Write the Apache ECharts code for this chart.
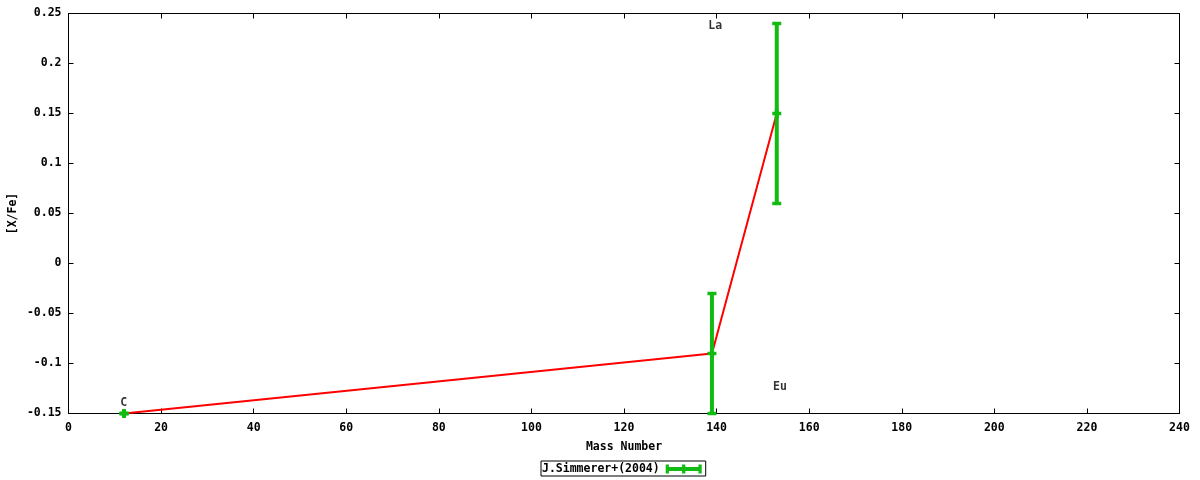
<!DOCTYPE html>
<html>
<head>
<meta charset="utf-8">
<script src="https://cdn.jsdelivr.net/npm/echarts@6/dist/echarts.min.js"></script>
<style>
html,body{margin:0;padding:0;background:#fff;}
#c{width:1200px;height:480px;}
</style>
</head>
<body>
<div id="c"></div>
<script>
// Data
const elements = ['C', 'La', 'Eu'];
const massNumber = [12, 139, 153];
const xFe = [-0.15, -0.09, 0.15];
const xFeErr = [0.0, 0.06, 0.09];
const seriesName = 'J.Simmerer+(2004)';
// Element label positions (as placed in the reference)
const labelX = [11.9, 139.7, 153.7];
const labelY = [-0.1395, 0.2375, -0.1235];
const xTicks = [0, 20, 40, 60, 80, 100, 120, 140, 160, 180, 200, 220, 240];
const yTicks = [-0.15, -0.1, -0.05, 0, 0.05, 0.1, 0.15, 0.2, 0.25];

const FONT = '"DejaVu Sans Mono", monospace';
const GREEN = '#11bb11';

const linePts = massNumber.map((m, i) => [m, xFe[i]]);
const errPts = massNumber.map((m, i) => [m, xFe[i] - xFeErr[i], xFe[i] + xFeErr[i], xFe[i]]);
const labelPts = elements.map((e, i) => ({ value: [labelX[i], labelY[i]], name: e }));

const chart = echarts.init(document.getElementById('c'));
const axisLabelStyle = { fontFamily: FONT, fontSize: 11.5, fontWeight: 'bold', color: '#000' };

chart.setOption({
  animation: false,
  grid: { left: 68.5, right: 20.5, top: 13.5, height: 400, containLabel: false, outerBoundsMode: 'none' },
  xAxis: [{
    type: 'value', min: 0, max: 240, interval: 20, position: 'bottom',
    name: 'Mass Number', nameLocation: 'middle', nameGap: 28, nameMoveOverlap: false,
    nameTextStyle: axisLabelStyle,
    axisLine: { show: true, onZero: false, lineStyle: { color: '#000', width: 1 } },
    axisTick: { show: true, inside: true, length: 5, lineStyle: { color: '#000' } },
    axisLabel: Object.assign({ margin: 9 }, axisLabelStyle),
    splitLine: { show: false }
  }, {
    type: 'value', min: 0, max: 240, interval: 20, position: 'top',
    axisLine: { show: true, onZero: false, lineStyle: { color: '#000', width: 1 } },
    axisTick: { show: true, inside: true, length: 5, lineStyle: { color: '#000' } },
    axisLabel: { show: false }, splitLine: { show: false }
  }],
  yAxis: [{
    type: 'value', min: -0.15, max: 0.25, interval: 0.05, position: 'left',
    name: '[X/Fe]', nameLocation: 'middle', nameGap: 49, nameRotate: 90, nameMoveOverlap: false,
    nameTextStyle: axisLabelStyle,
    axisLine: { show: true, onZero: false, lineStyle: { color: '#000', width: 1 } },
    axisTick: { show: true, inside: true, length: 5, lineStyle: { color: '#000' } },
    axisLabel: Object.assign({ margin: 7, formatter: v => {
      const r = Math.round(v * 100) / 100;
      return String(r);
    } }, axisLabelStyle),
    splitLine: { show: false }
  }, {
    type: 'value', min: -0.15, max: 0.25, interval: 0.05, position: 'right',
    axisLine: { show: true, onZero: false, lineStyle: { color: '#000', width: 1 } },
    axisTick: { show: true, inside: true, length: 5, lineStyle: { color: '#000' } },
    axisLabel: { show: false }, splitLine: { show: false }
  }],
  legend: {
    show: true,
    top: 461, left: 541,
    data: [{ name: seriesName, icon: 'path://M0,2.8H40V7.2H0Z M0,0H3.6V10H0Z M36.4,0H40V10H36.4Z M18.2,0H21.8V10H18.2Z',
             itemStyle: { color: GREEN, borderWidth: 0 } }],
    align: 'right',
    itemWidth: 36, itemHeight: 9, itemGap: 0,
    padding: [2, 4, 1, 1],
    borderColor: '#000', borderWidth: 1, borderRadius: 0,
    textStyle: { fontFamily: FONT, fontSize: 11.5, fontWeight: 'bold', color: '#000', padding: [0, 1, 0, 0] },
    selectedMode: false
  },
  series: [{
    type: 'line', name: 'line', data: linePts, xAxisIndex: 0, yAxisIndex: 0,
    symbol: 'none', lineStyle: { color: '#ff0000', width: 2 }, z: 2, silent: true
  }, {
    type: 'custom', name: seriesName, data: errPts, xAxisIndex: 0, yAxisIndex: 0,
    itemStyle: { color: GREEN }, z: 3,
    encode: { x: 0, y: [1, 2, 3] },
    renderItem: function (params, api) {
      const x = api.value(0);
      const lo = api.coord([x, api.value(1)]);
      const hi = api.coord([x, api.value(2)]);
      const mid = api.coord([x, api.value(3)]);
      const hw = 4.5, ch = 3.5;
      const style = { fill: GREEN, stroke: null };
      const lw = 4;
      return {
        type: 'group',
        children: [
          { type: 'rect', shape: { x: lo[0] - lw / 2, y: hi[1], width: lw, height: Math.max(lo[1] - hi[1], 0.5) }, style: style },
          { type: 'rect', shape: { x: lo[0] - hw, y: hi[1] - ch / 2, width: hw * 2, height: ch }, style: style },
          { type: 'rect', shape: { x: lo[0] - hw, y: lo[1] - ch / 2, width: hw * 2, height: ch }, style: style },
          { type: 'rect', shape: { x: lo[0] - hw, y: mid[1] - ch / 2, width: hw * 2, height: ch }, style: style },
          { type: 'rect', shape: { x: lo[0] - lw / 2, y: mid[1] - hw, width: lw, height: hw * 2 }, style: style }
        ]
      };
    }
  }, {
    type: 'scatter', name: 'labels', data: labelPts, xAxisIndex: 0, yAxisIndex: 0,
    symbolSize: 0, silent: true, z: 4,
    label: {
      show: true, position: 'inside', formatter: p => p.name,
      fontFamily: FONT, fontSize: 11.5, fontWeight: 'bold', color: '#000'
    }
  }]
});
</script>
</body>
</html>
